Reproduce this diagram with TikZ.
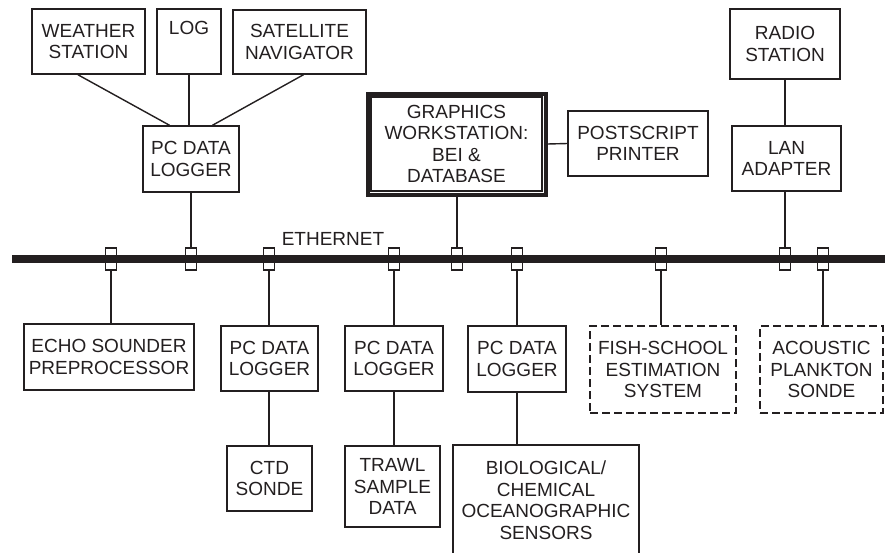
\documentclass[tikz,border=0pt]{standalone}
\usepackage{fontspec}
\setmainfont{Liberation Sans}
\usetikzlibrary{calc}
\definecolor{ink}{HTML}{231F20}
\begin{document}
\begin{tikzpicture}[x=1pt,y=-1pt,
  every node/.style={font=\fontsize{19}{21.5}\selectfont, text=ink},
  box/.style={draw=ink, line width=1.4pt, align=center, inner sep=0pt, rectangle},
  dbox/.style={box, line width=2.4pt, dash pattern=on 8pt off 4pt},
  tap/.style={draw=ink, line width=1.3pt, minimum width=11pt, minimum height=22pt, inner sep=0pt, rectangle},
  wire/.style={draw=ink, line width=1.4pt}]
\useasboundingbox (0,0) rectangle (885,552);
\clip (0,0) rectangle (885,552);
% top row
\node[box, minimum width=113pt, minimum height=65pt] (weather) at (88.5,41.5) {WEATHER\\STATION};
\node[box, minimum width=64pt, minimum height=65pt] (log) at (189,41.5) {LOG\\\strut};
\node[box, minimum width=133pt, minimum height=64pt] (sat) at (299.5,42) {SATELLITE\\NAVIGATOR};
\node[box, minimum width=96pt, minimum height=66pt] (pc1) at (191,159) {PC DATA\\LOGGER};
\node[box, line width=4pt, minimum width=178pt, minimum height=101pt] (ws) at (456.5,144) {GRAPHICS\\WORKSTATION:\\BEI \&\\DATABASE};
\draw[ink, line width=1.5pt] ([xshift=5.5pt,yshift=-5.5pt]ws.north west) rectangle ([xshift=-5.5pt,yshift=5.5pt]ws.south east);
\node[box, minimum width=140pt, minimum height=65pt] (ps) at (638,143.5) {POSTSCRIPT\\PRINTER};
\node[box, minimum width=110pt, minimum height=70pt] (radio) at (785,44) {RADIO\\STATION};
\node[box, minimum width=109pt, minimum height=65pt] (lan) at (786.5,158.5) {LAN\\ADAPTER};
% bus
\coordinate (busL) at (12,259);
\coordinate (busR) at (885,259);
\draw[ink, line width=8pt] (busL) -- (busR);
\node at (333,239) (eth) {ETHERNET};
\foreach \n/\x in {t1/111,t2/191,t3/269,t4/394,t5/457,t6/517,t7/661,t8/785,t9/823}
  \node[tap] (\n) at (\x,259) {};
% bottom
\node[box, minimum width=170pt, minimum height=66pt] (echo) at (109,357) {ECHO SOUNDER\\PREPROCESSOR};
\node[box, minimum width=97pt, minimum height=65pt] (pc2) at (269.5,358.5) {PC DATA\\LOGGER};
\node[box, minimum width=98pt, minimum height=65pt] (pc3) at (394,358.5) {PC DATA\\LOGGER};
\node[box, minimum width=98pt, minimum height=66pt] (pc4) at (517,359) {PC DATA\\LOGGER};
\node[dbox, minimum width=146pt, minimum height=87pt] (fish) at (663,369.5) {FISH-SCHOOL\\ESTIMATION\\SYSTEM};
\node[dbox, minimum width=123pt, minimum height=87pt] (acou) at (821.5,369.5) {ACOUSTIC\\PLANKTON\\SONDE};
\node[box, minimum width=85pt, minimum height=65pt] (ctd) at (269.5,478.5) {CTD\\SONDE};
\node[box, minimum width=95pt, minimum height=81pt] (trawl) at (392.5,486.5) {TRAWL\\SAMPLE\\DATA};
\node[box, minimum width=186pt, minimum height=110pt] (bio) at (546,500) {BIOLOGICAL/\\CHEMICAL\\OCEANOGRAPHIC\\SENSORS};
% connectors top
\draw[wire] ($(weather.south west)!0.407!(weather.south east)$) -- ($(pc1.north west)!0.28!(pc1.north east)$);
\draw[wire] (log.south) -- (log.south |- pc1.north);
\draw[wire] ($(sat.south west)!0.53!(sat.south east)$) -- ($(pc1.north west)!0.72!(pc1.north east)$);
\draw[wire] (pc1.south) -- (t2.north);
\draw[wire] (ws.south -| t5) -- (t5.north);
\draw[wire] (ws.east) -- (ps.west);
\draw[wire] (radio.south -| t8) -- (lan.north -| t8);
\draw[wire] (lan.south -| t8) -- (t8.north);
% connectors bottom
\draw[wire] (t1.south) -- (t1.south |- echo.north);
\draw[wire] (t3.south) -- (t3.south |- pc2.north);
\draw[wire] (t4.south) -- (t4.south |- pc3.north);
\draw[wire] (t6.south) -- (t6.south |- pc4.north);
\draw[wire] (t7.south) -- (t7.south |- fish.north);
\draw[wire] (t9.south) -- (t9.south |- acou.north);
\draw[wire] (pc2.south -| t3) -- (ctd.north -| t3);
\draw[wire] (pc3.south -| t4) -- (trawl.north -| t4);
\draw[wire] (pc4.south -| t6) -- (bio.north -| t6);
\end{tikzpicture}
\end{document}
